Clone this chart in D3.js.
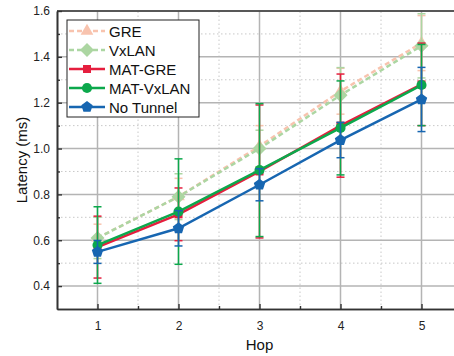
<!DOCTYPE html>
<html>
<head>
<meta charset="utf-8">
<script src="https://cdn.jsdelivr.net/npm/d3@7"></script>
<style>
  body { margin: 0; background: #fff; }
  svg { display: block; font-family: "Liberation Sans", Arial, sans-serif; }
</style>
</head>
<body>
<div id="chart"></div>
<script>
// data
const hops = [1, 2, 3, 4, 5];
const seriesNames = ["GRE", "VxLAN", "MAT-GRE", "MAT-VxLAN", "No Tunnel"];
const greMean = [0.61, 0.79, 1.01, 1.25, 1.46];
const greErr = [0.06, 0.08, 0.09, 0.10, 0.12];
const vxlanMean = [0.61, 0.79, 1.00, 1.233, 1.448];
const vxlanErr = [0.09, 0.10, 0.08, 0.12, 0.14];
const matGreMean = [0.57, 0.713, 0.90, 1.10, 1.28];
const matGreErr = [0.135, 0.115, 0.29, 0.225, 0.18];
const matVxlanMean = [0.579, 0.725, 0.906, 1.09, 1.277];
const matVxlanErr = [0.167, 0.23, 0.29, 0.205, 0.177];
const noTunnelMean = [0.549, 0.652, 0.842, 1.037, 1.214];
const noTunnelErr = [0.05, 0.077, 0.07, 0.077, 0.14];
const yTicks = [0.4, 0.6, 0.8, 1.0, 1.2, 1.4, 1.6];

const width = 454;
const height = 356;
const margin = { top: 11, right: -8, bottom: 47, left: 57 };

const styles = {
  "GRE": { color: "#f8c3ae", dash: "5,3" },
  "VxLAN": { color: "#acd6a2", dash: "5,3" },
  "MAT-GRE": { color: "#e51e3e", dash: null },
  "MAT-VxLAN": { color: "#0ca84c", dash: null },
  "No Tunnel": { color: "#1766b1", dash: null }
};

const series = [
  { name: "GRE", mean: greMean, err: greErr },
  { name: "VxLAN", mean: vxlanMean, err: vxlanErr },
  { name: "MAT-GRE", mean: matGreMean, err: matGreErr },
  { name: "MAT-VxLAN", mean: matVxlanMean, err: matVxlanErr },
  { name: "No Tunnel", mean: noTunnelMean, err: noTunnelErr }
];

const svg = d3.select("#chart").append("svg")
  .attr("width", width)
  .attr("height", height);

const x = d3.scaleLinear().domain([0.5, 5.5]).range([margin.left, width - margin.right]);
const y = d3.scaleLinear().domain([0.3, 1.6]).range([height - margin.bottom, margin.top]);

// regular polygon marker path
function polygon(n, r, rot) {
  const pts = d3.range(n).map(i => {
    const a = rot + i * 2 * Math.PI / n;
    return [r * Math.cos(a), r * Math.sin(a)];
  });
  return "M" + pts.map(p => p.join(",")).join("L") + "Z";
}
function markerPath(name) {
  if (name === "GRE") return d3.symbol().type(d3.symbolTriangle).size(70)();
  if (name === "VxLAN") return polygon(4, 7, 0);
  if (name === "MAT-GRE") return d3.symbol().type(d3.symbolSquare).size(64)();
  if (name === "MAT-VxLAN") return d3.symbol().type(d3.symbolCircle).size(80)();
  return polygon(5, 6, -Math.PI / 2);
}

// grid
const minorX = d3.range(1.5, 5.5, 1);
const minorY = d3.range(0.5, 1.6, 0.2);
const grid = svg.append("g");
grid.selectAll(".mx").data(minorX).enter().append("line")
  .attr("x1", d => x(d)).attr("x2", d => x(d))
  .attr("y1", y(0.3)).attr("y2", y(1.6))
  .attr("stroke", "#c8c8c8").attr("stroke-dasharray", "1.5,2.5");
grid.selectAll(".my").data(minorY).enter().append("line")
  .attr("x1", x(0.5)).attr("x2", width)
  .attr("y1", d => y(d)).attr("y2", d => y(d))
  .attr("stroke", "#c8c8c8").attr("stroke-dasharray", "1.5,2.5");
grid.selectAll(".gx").data(hops).enter().append("line")
  .attr("x1", d => x(d)).attr("x2", d => x(d))
  .attr("y1", y(0.3)).attr("y2", y(1.6))
  .attr("stroke", "#b4b4b4").attr("stroke-width", 1.5);
grid.selectAll(".gy").data(yTicks).enter().append("line")
  .attr("x1", x(0.5)).attr("x2", width)
  .attr("y1", d => y(d)).attr("y2", d => y(d))
  .attr("stroke", "#b4b4b4").attr("stroke-width", 1.5);

// axes
svg.append("g")
  .attr("transform", `translate(0,${y(0.3)})`)
  .call(d3.axisBottom(x).tickValues(hops).tickFormat(d3.format("d"))
    .tickSizeInner(-5).tickSizeOuter(0).tickPadding(12));
svg.append("g")
  .attr("transform", `translate(0,${y(0.3)})`)
  .call(d3.axisBottom(x).tickValues(minorX).tickSizeInner(-3).tickSizeOuter(0).tickFormat(""));
svg.append("g")
  .attr("transform", `translate(${x(0.5)},0)`)
  .call(d3.axisLeft(y).tickValues(yTicks).tickFormat(d3.format(".1f"))
    .tickSizeInner(-5).tickSizeOuter(0).tickPadding(7));
svg.append("g")
  .attr("transform", `translate(${x(0.5)},0)`)
  .call(d3.axisLeft(y).tickValues(minorY).tickSizeInner(-3).tickSizeOuter(0).tickFormat(""));
svg.selectAll(".domain").attr("stroke", "#333").attr("stroke-width", 1.6);
svg.selectAll(".tick line").attr("stroke", "#333").attr("stroke-width", 1.4);
svg.selectAll(".tick text").attr("fill", "#222").style("font-size", "12px")
  .style("font-family", "'Liberation Sans', Arial, sans-serif");

// top frame line
svg.append("line")
  .attr("x1", x(0.5)).attr("x2", width)
  .attr("y1", y(1.6)).attr("y2", y(1.6))
  .attr("stroke", "#333").attr("stroke-width", 1.4);

// series
const line = d3.line().x((d, i) => x(hops[i])).y(d => y(d));
series.forEach(s => {
  const st = styles[s.name];
  const g = svg.append("g");
  // error bars
  s.mean.forEach((m, i) => {
    const cx = x(hops[i]);
    g.append("line")
      .attr("x1", cx).attr("x2", cx)
      .attr("y1", y(m - s.err[i])).attr("y2", y(m + s.err[i]))
      .attr("stroke", st.color).attr("stroke-width", 1.5);
    [m - s.err[i], m + s.err[i]].forEach(v => {
      g.append("line")
        .attr("x1", cx - 4).attr("x2", cx + 4)
        .attr("y1", y(v)).attr("y2", y(v))
        .attr("stroke", st.color).attr("stroke-width", 1.5);
    });
  });
  g.append("path")
    .attr("d", line(s.mean))
    .attr("fill", "none")
    .attr("stroke", st.color)
    .attr("stroke-width", 2.5)
    .attr("stroke-dasharray", st.dash);
  g.selectAll(".m").data(s.mean).enter().append("path")
    .attr("d", markerPath(s.name))
    .attr("transform", (d, i) => `translate(${x(hops[i])},${y(d)})`)
    .attr("fill", st.color);
});

// axis titles
svg.append("text")
  .attr("x", x(3)).attr("y", 350)
  .attr("text-anchor", "middle")
  .style("font-size", "15px").attr("fill", "#111")
  .text("Hop");
svg.append("text")
  .attr("transform", `translate(27,${(y(0.3) + y(1.6)) / 2}) rotate(-90)`)
  .attr("text-anchor", "middle")
  .style("font-size", "15px").attr("fill", "#111")
  .text("Latency (ms)");

// legend
const legend = svg.append("g").attr("transform", "translate(67,20)");
legend.append("rect")
  .attr("width", 132).attr("height", 97)
  .attr("fill", "#fff").attr("stroke", "#222").attr("stroke-width", 1);
seriesNames.forEach((name, i) => {
  const st = styles[name];
  const ly = 11 + i * 19;
  const row = legend.append("g").attr("transform", `translate(0,${ly})`);
  row.append("line")
    .attr("x1", 2).attr("x2", 38)
    .attr("stroke", st.color).attr("stroke-width", 2.5)
    .attr("stroke-dasharray", st.dash);
  row.append("path")
    .attr("d", markerPath(name))
    .attr("transform", "translate(20,0)")
    .attr("fill", st.color);
  row.append("text")
    .attr("x", 42).attr("y", 5.5)
    .style("font-size", "15px").attr("fill", "#111")
    .text(name);
});
</script>
</body>
</html>
